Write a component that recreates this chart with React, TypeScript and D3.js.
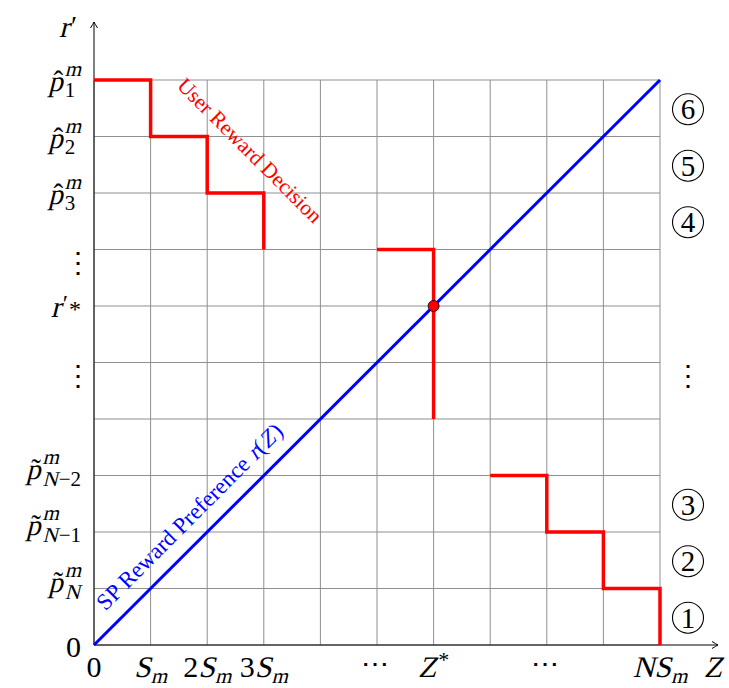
import React from "react";
import * as d3 from "d3";

// ---- data (grid units: Z in multiples of S_m, r' in reward levels) ----
const gridSteps = d3.range(0, 11);
const spPreference: [number, number][] = [[0, 0], [10, 10]];
const userDecisionUpper: [number, number][] = [[0, 10], [1, 9], [2, 8], [3, 7]];
const userDecisionMiddle: [number, number][] = [[5, 7], [6, 4]];
const userDecisionLower: [number, number][] = [[7, 3], [8, 2], [9, 1], [10, 0]];
const equilibrium: [number, number] = [6, 6];
const regionNumbers = [
  { v: 0.5, label: "1" },
  { v: 1.5, label: "2" },
  { v: 2.5, label: "3" },
  { v: 7.5, label: "4" },
  { v: 8.5, label: "5" },
  { v: 9.5, label: "6" },
];
const regionDotsAt = 4.85;
const leftDotsAt = [6.85, 4.85];
const xDotsAt = [5, 8];

type Piece = { t: string; i?: boolean; s?: number; dy?: number; dx?: number; stack?: boolean; accent?: boolean };

const xTickLabels: { v: number; pieces: Piece[] }[] = [
  { v: 0, pieces: [{ t: "0" }] },
  { v: 1, pieces: [{ t: "S", i: true }, { t: "m", i: true, s: 21, dy: 6 }] },
  { v: 2, pieces: [{ t: "2" }, { t: "S", i: true }, { t: "m", i: true, s: 21, dy: 6 }] },
  { v: 3, pieces: [{ t: "3" }, { t: "S", i: true }, { t: "m", i: true, s: 21, dy: 6 }] },
  { v: 6, pieces: [{ t: "Z", i: true }, { t: "*", s: 22, dy: -10, dx: 2 }] },
  { v: 10, pieces: [{ t: "N", i: true }, { t: "S", i: true }, { t: "m", i: true, s: 21, dy: 6 }] },
];
const axisZLabel: Piece[] = [{ t: "Z", i: true }];

const pBase = (accent: string): Piece[] => [
  { t: "p", i: true, s: 29 },
  { t: accent, accent: true, s: 29 },
  { t: "m", i: true, s: 21, dy: -15, dx: 2 },
];
const yTickLabels: { v: number; dy: number; pieces: Piece[] }[] = [
  { v: 10, dy: 11, pieces: [...pBase("ˆ"), { t: "1", s: 21, dy: 6, stack: true }] },
  { v: 9, dy: 11, pieces: [...pBase("ˆ"), { t: "2", s: 21, dy: 6, stack: true }] },
  { v: 8, dy: 11, pieces: [...pBase("ˆ"), { t: "3", s: 21, dy: 6, stack: true }] },
  { v: 6, dy: 11, pieces: [{ t: "r", i: true }, { t: "′", s: 24, dy: -6, dx: 2 }, { t: "*", s: 24, dy: 0, dx: 1 }] },
  { v: 3, dy: 3, pieces: [...pBase("˜"), { t: "N", i: true, s: 21, dy: 7, stack: true }, { t: "−2", s: 21, dy: 7, dx: 1 }] },
  { v: 2, dy: 3, pieces: [...pBase("˜"), { t: "N", i: true, s: 21, dy: 7, stack: true }, { t: "−1", s: 21, dy: 7, dx: 1 }] },
  { v: 1, dy: 3, pieces: [...pBase("˜"), { t: "N", i: true, s: 21, dy: 7, stack: true }] },
  { v: 0, dy: 12, pieces: [{ t: "0" }] },
];
const yAxisLabel: Piece[] = [{ t: "r", i: true }, { t: "′", s: 28, dy: -2, dx: 2 }];

const userLabel: Piece[] = [{ t: "User Reward Decision" }];
const spLabel: Piece[] = [
  { t: "SP Reward Preference " },
  { t: "r", i: true },
  { t: "(", dx: 1 },
  { t: "Z", i: true },
  { t: ")", dx: 2 },
];

const FAMILY = "Liberation Serif";
const FONT = `'${FAMILY}', 'DejaVu Serif', serif`;
const W = 729;
const H = 688;
const MAIN = 30;
const SKEW = -14;

let ctx: CanvasRenderingContext2D | null = null;
function measure(t: string, size: number): number {
  if (!ctx && typeof document !== "undefined") ctx = document.createElement("canvas").getContext("2d");
  if (!ctx) return t.length * size * 0.5;
  ctx.font = `${size}px "${FAMILY}"`;
  return ctx.measureText(t).width;
}

function MathText({
  x,
  y,
  anchor = "start",
  pieces,
  base = MAIN,
  fill = "#000",
}: {
  x: number;
  y: number;
  anchor?: "start" | "middle" | "end";
  pieces: Piece[];
  base?: number;
  fill?: string;
}) {
  let total = 0;
  let lastEnd = 0;
  let prevStart = 0;
  let prevW = 0;
  let prevItalic = false;
  const placed: { p: Piece; s: number; px: number; mid: boolean }[] = [];
  for (const p of pieces) {
    const s = p.s ?? base;
    const w = measure(p.t, s);
    if (p.accent) {
      placed.push({ p, s, px: prevStart + prevW / 2 + (prevItalic ? 0.1 * s : 0), mid: true });
      continue;
    }
    if (p.stack) {
      placed.push({ p, s, px: prevStart, mid: false });
      lastEnd = prevStart + w;
    } else {
      const px = lastEnd + (p.dx ?? 0);
      placed.push({ p, s, px, mid: false });
      prevStart = px;
      prevW = w;
      lastEnd = px + w;
    }
    total = Math.max(total, lastEnd);
    prevItalic = !!p.i;
  }
  const off = anchor === "middle" ? -total / 2 : anchor === "end" ? -total : 0;
  return (
    <g fill={fill}>
      {placed.map(({ p, s, px, mid }, k) => {
        const tx = x + off + px;
        const ty = y + (p.dy ?? 0);
        return p.i ? (
          <text key={k} transform={`translate(${tx},${ty}) skewX(${SKEW})`} fontSize={s} textAnchor={mid ? "middle" : "start"}>
            {p.t}
          </text>
        ) : (
          <text key={k} x={tx} y={ty} fontSize={s} textAnchor={mid ? "middle" : "start"}>
            {p.t}
          </text>
        );
      })}
    </g>
  );
}

export default function App() {
  const x = d3.scaleLinear().domain([0, 10]).range([94, 660]);
  const y = d3.scaleLinear().domain([0, 10]).range([645, 80]);
  const lineStep = d3
    .line<[number, number]>()
    .x((d) => x(d[0]))
    .y((d) => y(d[1]))
    .curve(d3.curveStepAfter);
  const lineStraight = d3
    .line<[number, number]>()
    .x((d) => x(d[0]))
    .y((d) => y(d[1]));

  const x0 = x(0);
  const y0 = y(0);
  const yTop = 22;
  const xEnd = 718;

  return (
    <svg
      width={W}
      height={H}
      viewBox={`0 0 ${W} ${H}`}
      style={{ position: "absolute", left: 0, top: 0, background: "#fff" }}
      fontFamily={FONT}
    >
      <rect x={0} y={0} width={W} height={H} fill="#fff" />
      {/* grid */}
      <g stroke="#8f8f8f" strokeWidth={1}>
        {gridSteps.map((g) => (
          <line key={"v" + g} x1={x(g)} x2={x(g)} y1={y(0)} y2={y(10)} />
        ))}
        {gridSteps.map((g) => (
          <line key={"h" + g} x1={x(0)} x2={x(10)} y1={y(g)} y2={y(g)} />
        ))}
      </g>
      {/* axes */}
      <g stroke="#000" strokeWidth={1} fill="none">
        <line x1={x0} x2={x0} y1={y0} y2={yTop} />
        <path d={`M${x0 - 3.5},${yTop + 6} Q${x0 - 1},${yTop + 2} ${x0},${yTop} Q${x0 + 1},${yTop + 2} ${x0 + 3.5},${yTop + 6}`} />
        <line x1={x0} x2={xEnd} y1={y0} y2={y0} />
        <path d={`M${xEnd - 6},${y0 - 3.5} Q${xEnd - 2},${y0 - 1} ${xEnd},${y0} Q${xEnd - 2},${y0 + 1} ${xEnd - 6},${y0 + 3.5}`} />
      </g>
      {/* SP preference line */}
      <path d={lineStraight(spPreference) || ""} stroke="#0000ff" strokeWidth={3} fill="none" />
      {/* user reward decision */}
      {[userDecisionUpper, userDecisionMiddle, userDecisionLower].map((seg, k) => (
        <path key={k} d={lineStep(seg) || ""} stroke="#ff0000" strokeWidth={3.5} fill="none" strokeLinejoin="miter" />
      ))}
      <circle cx={x(equilibrium[0])} cy={y(equilibrium[1])} r={5.5} fill="#ff0000" stroke="#000" strokeWidth={0.8} />

      {/* rotated curve labels */}
      <g transform={`translate(${x(2.75)},${y(8.75)}) rotate(45)`}>
        <MathText x={0} y={7} anchor="middle" pieces={userLabel} base={21.5} fill="#ff0000" />
      </g>
      <g transform={`translate(${x(1.69)},${y(2.27)}) rotate(-45)`}>
        <MathText x={0} y={7.5} anchor="middle" pieces={spLabel} base={23} fill="#0000ff" />
      </g>

      {/* x tick labels */}
      {xTickLabels.map((l, k) => (
        <MathText key={k} x={x(l.v)} y={677} anchor="middle" pieces={l.pieces} />
      ))}
      {xDotsAt.map((v) => (
        <text key={v} x={x(v) - 2} y={673} textAnchor="middle" fontSize={28} fill="#000" fontFamily="'DejaVu Serif', serif">
          ⋯
        </text>
      ))}
      <MathText x={713} y={677} anchor="middle" pieces={axisZLabel} />

      {/* y labels */}
      <MathText x={68} y={37} anchor="middle" pieces={yAxisLabel} />
      {yTickLabels.map((l, k) => (
        <MathText key={k} x={81} y={y(l.v) + l.dy} anchor="end" pieces={l.pieces} />
      ))}
      {leftDotsAt.map((v) => (
        <text key={v} x={78} y={y(v) + 14} textAnchor="middle" fontSize={28} fill="#000" fontFamily="'DejaVu Serif', serif">
          ⋮
        </text>
      ))}

      {/* region numbers */}
      {regionNumbers.map((r) => (
        <g key={r.label}>
          <circle cx={688} cy={y(r.v) + 1} r={15.5} fill="none" stroke="#000" strokeWidth={1.1} />
          <text x={688} y={y(r.v) + 11} textAnchor="middle" fontSize={29} fill="#000">
            {r.label}
          </text>
        </g>
      ))}
      <text x={688} y={y(regionDotsAt) + 14} textAnchor="middle" fontSize={28} fill="#000" fontFamily="'DejaVu Serif', serif">
        ⋮
      </text>
    </svg>
  );
}
